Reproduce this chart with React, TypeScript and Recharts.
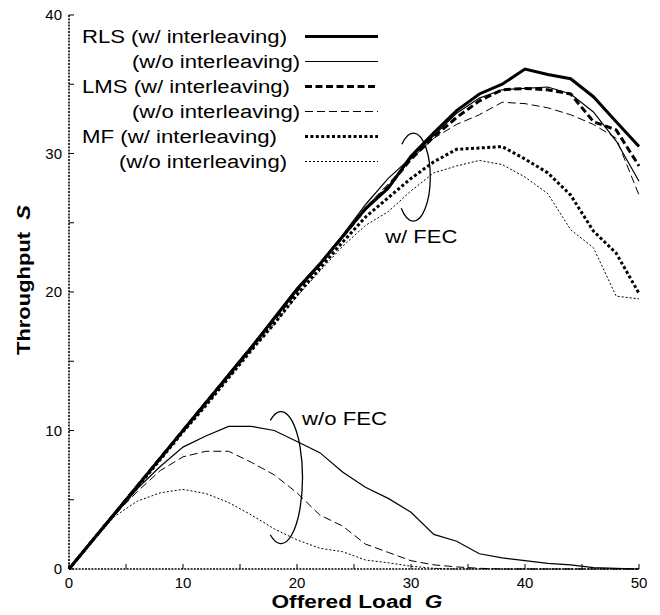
import { Legend, Line, LineChart, ReferenceDot, XAxis, YAxis } from "recharts";

const FONT = '"Liberation Sans", Arial, Helvetica, sans-serif';

// offered load G, sampled every 2
const loads = [0, 2, 4, 6, 8, 10, 12, 14, 16, 18, 20, 22, 24, 26, 28, 30, 32, 34, 36, 38, 40, 42, 44, 46, 48, 50];

// w/ FEC
const rlsInt = [0, 2.0, 4.0, 6.0, 8.0, 10.0, 12.0, 14.0, 16.0, 18.1, 20.2, 22.0, 24.0, 26.0, 27.5, 29.8, 31.5, 33.1, 34.3, 35.0, 36.1, 35.7, 35.4, 34.1, 32.3, 30.5];
const rlsNoInt = [0, 2.0, 4.0, 6.0, 8.0, 10.0, 12.0, 14.1, 16.1, 18.2, 20.3, 22.1, 24.1, 26.3, 28.2, 29.7, 31.3, 32.9, 34.0, 34.6, 34.7, 34.8, 34.3, 33.0, 30.9, 28.0];
const lmsInt = [0, 2.0, 4.0, 6.0, 8.0, 10.0, 12.0, 14.0, 16.0, 18.0, 20.1, 22.0, 24.0, 26.0, 27.6, 29.6, 31.2, 32.6, 33.8, 34.6, 34.7, 34.6, 34.3, 32.3, 31.7, 29.1];
const lmsNoInt = [0, 2.0, 4.0, 6.0, 8.0, 10.0, 12.0, 14.0, 16.0, 18.0, 20.1, 22.0, 23.9, 26.1, 27.8, 29.6, 31.1, 32.1, 32.8, 33.7, 33.6, 33.3, 32.8, 32.1, 31.1, 27.0];
const mfInt = [0, 2.0, 4.0, 5.9, 7.9, 9.9, 11.8, 13.8, 15.8, 17.7, 19.8, 21.7, 23.6, 25.4, 26.8, 28.2, 29.4, 30.3, 30.4, 30.5, 29.6, 28.6, 27.0, 24.4, 22.8, 19.9];
const mfNoInt = [0, 2.0, 4.0, 5.9, 7.9, 9.9, 11.8, 13.8, 15.8, 17.7, 19.7, 21.5, 23.3, 24.8, 25.8, 27.3, 28.6, 29.1, 29.5, 29.2, 28.3, 27.1, 24.5, 23.2, 19.7, 19.5];

// w/o FEC
const rlsNoFec = [0, 2.0, 3.9, 5.8, 7.4, 8.8, 9.6, 10.3, 10.3, 10.0, 9.2, 8.4, 7.0, 5.9, 5.1, 4.1, 2.5, 2.0, 1.1, 0.8, 0.6, 0.4, 0.3, 0.1, 0.05, 0];
const lmsNoFec = [0, 2.0, 3.9, 5.6, 7.1, 8.1, 8.5, 8.5, 7.7, 6.8, 5.5, 3.9, 3.1, 1.8, 1.2, 0.6, 0.3, 0.15, 0.05, 0, 0, 0, 0, 0, 0, 0];
const mfNoFec = [0, 1.9, 3.8, 4.9, 5.5, 5.75, 5.45, 4.8, 3.9, 2.9, 2.1, 1.5, 1.25, 0.65, 0.45, 0.2, 0.05, 0, 0, 0, 0, 0, 0, 0, 0, 0];

const X_TICKS = [0, 5, 10, 15, 20, 25, 30, 35, 40, 45, 50];
const Y_TICKS = [0, 5, 10, 15, 20, 25, 30, 35, 40];

const data = loads.map((g, i) => ({
  g,
  rlsInt: rlsInt[i],
  rlsNoInt: rlsNoInt[i],
  lmsInt: lmsInt[i],
  lmsNoInt: lmsNoInt[i],
  mfInt: mfInt[i],
  mfNoInt: mfNoInt[i],
  rlsNoFec: rlsNoFec[i],
  lmsNoFec: lmsNoFec[i],
  mfNoFec: mfNoFec[i],
}));

const STYLE = {
  solidThick: { width: 3, dash: undefined as string | undefined },
  solidThin: { width: 1.2, dash: undefined as string | undefined },
  dashThick: { width: 3, dash: "7 3.5" },
  dashThin: { width: 1, dash: "8 4" },
  dotThick: { width: 3, dash: "3 2.4" },
  dotThin: { width: 1, dash: "2 2" },
};

const SERIES = [
  { key: "rlsInt", style: STYLE.solidThick },
  { key: "rlsNoInt", style: STYLE.solidThin },
  { key: "lmsInt", style: STYLE.dashThick },
  { key: "lmsNoInt", style: STYLE.dashThin },
  { key: "mfInt", style: STYLE.dotThick },
  { key: "mfNoInt", style: STYLE.dotThin },
  { key: "rlsNoFec", style: STYLE.solidThin },
  { key: "lmsNoFec", style: STYLE.dashThin },
  { key: "mfNoFec", style: STYLE.dotThin },
];

// legend rows: text x, text length (glyphs are a bit wide in the original)
const LEGEND_ROWS = [
  { label: "RLS (w/ interleaving)", style: STYLE.solidThick, x: 82, len: 205 },
  { label: "(w/o interleaving)", style: STYLE.solidThin, x: 132, len: 168 },
  { label: "LMS (w/ interleaving)", style: STYLE.dashThick, x: 82, len: 208 },
  { label: "(w/o interleaving)", style: STYLE.dashThin, x: 132, len: 168 },
  { label: "MF (w/ interleaving)", style: STYLE.dotThick, x: 82, len: 195 },
  { label: "(w/o interleaving)", style: STYLE.dotThin, x: 119, len: 168 },
];

function LegendBox() {
  return (
    <svg width={400} height={190} style={{ display: "block" }}>
      {LEGEND_ROWS.map((row, i) => (
        <g key={i}>
          <text
            x={row.x}
            y={43 + 25 * i}
            fontFamily={FONT}
            fontSize={18}
            fill="#000"
            textLength={row.len}
            lengthAdjust="spacingAndGlyphs"
          >
            {row.label}
          </text>
          <line
            x1={305}
            x2={378}
            y1={36.5 + 25 * i}
            y2={36.5 + 25 * i}
            stroke="#000"
            strokeWidth={row.style.width}
            strokeDasharray={row.style.dash}
          />
        </g>
      ))}
    </svg>
  );
}

function arcPath(cx: number, cy: number, rx: number, ry: number, t0: number, t1: number) {
  const r = Math.PI / 180;
  const sx = cx + rx * Math.cos(t0 * r);
  const sy = cy + ry * Math.sin(t0 * r);
  const ex = cx + rx * Math.cos(t1 * r);
  const ey = cy + ry * Math.sin(t1 * r);
  return `M ${sx} ${sy} A ${rx} ${ry} 0 1 1 ${ex} ${ey}`;
}

function FecNote(props: any) {
  const { cx, cy, rx, ry, t0, t1, text, dx, dy, len } = props;
  if (cx == null || cy == null) return null;
  return (
    <g>
      <path d={arcPath(cx, cy, rx, ry, t0, t1)} fill="none" stroke="#000" strokeWidth={1.3} />
      <text
        x={cx + dx}
        y={cy + dy}
        fontFamily={FONT}
        fontSize={18}
        fill="#000"
        textLength={len}
        lengthAdjust="spacingAndGlyphs"
      >
        {text}
      </text>
    </g>
  );
}

function XTitle(props: any) {
  const vb = props.viewBox || { x: 69, y: 569, width: 570, height: 30 };
  return (
    <text
      x={vb.x + vb.width / 2 + 3}
      y={vb.y + 39}
      textAnchor="middle"
      fontFamily={FONT}
      fontSize={18}
      fontWeight="bold"
      fill="#000"
      textLength={171}
      lengthAdjust="spacingAndGlyphs"
    >
      Offered Load{"\u00a0\u00a0"}
      <tspan fontStyle="italic">G</tspan>
    </text>
  );
}

function YTitle(props: any) {
  const vb = props.viewBox || { x: 29, y: 15, width: 40, height: 554 };
  const x = vb.x - 5;
  const y = vb.y + vb.height / 2 - 12;
  return (
    <text
      x={x}
      y={y}
      transform={`rotate(-90, ${x}, ${y})`}
      textAnchor="middle"
      dominantBaseline="central"
      fontFamily={FONT}
      fontSize={18}
      fontWeight="bold"
      fill="#000"
      textLength={150}
      lengthAdjust="spacingAndGlyphs"
    >
      Throughput{"\u00a0\u00a0"}
      <tspan fontStyle="italic">S</tspan>
    </text>
  );
}

const tickStyle = { fill: "#000", fontSize: 15, fontFamily: FONT };

export default function App() {
  return (
    <div style={{ width: 660, height: 615, margin: "-8px 0 0 -8px", background: "#fff" }}>
      <LineChart
        width={660}
        height={615}
        data={data}
        margin={{ top: 15, right: 21, left: 29, bottom: 16 }}
      >
        <XAxis
          dataKey="g"
          type="number"
          domain={[0, 50]}
          ticks={X_TICKS}
          interval={0}
          tickFormatter={(v) => (Number(v) % 10 === 0 ? String(v) : "")}
          tickSize={-5}
          tickMargin={13}
          height={30}
          tick={tickStyle}
          tickLine={{ stroke: "#000", strokeWidth: 1 }}
          axisLine={{ stroke: "#000", strokeWidth: 1.6, strokeDasharray: "2 1.2" }}
          label={<XTitle />}
        />
        <XAxis
          xAxisId="top"
          orientation="top"
          dataKey="g"
          type="number"
          domain={[0, 50]}
          ticks={X_TICKS}
          interval={0}
          tickFormatter={() => ""}
          tickSize={-5}
          height={0}
          tickLine={{ stroke: "#000", strokeWidth: 1 }}
          axisLine={{ stroke: "#000", strokeWidth: 1.3 }}
        />
        <YAxis
          type="number"
          domain={[0, 40]}
          ticks={Y_TICKS}
          interval={0}
          tickFormatter={(v) => (Number(v) % 10 === 0 ? String(v) : "")}
          tickSize={-5}
          tickMargin={12}
          width={40}
          tick={tickStyle}
          tickLine={{ stroke: "#000", strokeWidth: 1 }}
          axisLine={{ stroke: "#000", strokeWidth: 1.6, strokeDasharray: "2 1.2" }}
          label={<YTitle />}
        />
        <YAxis
          yAxisId="right"
          orientation="right"
          type="number"
          domain={[0, 40]}
          ticks={Y_TICKS}
          interval={0}
          tickFormatter={() => ""}
          tickSize={-5}
          width={0}
          tickLine={{ stroke: "#000", strokeWidth: 1 }}
          axisLine={{ stroke: "#000", strokeWidth: 1.3 }}
        />
        {SERIES.map((s) => (
          <Line
            key={s.key}
            type="linear"
            dataKey={s.key}
            stroke="#000"
            strokeWidth={s.style.width}
            strokeDasharray={s.style.dash}
            dot={false}
            activeDot={false}
            isAnimationActive={false}
          />
        ))}
        <ReferenceDot
          x={30.2}
          y={28.3}
          r={0}
          ifOverflow="visible"
          shape={(p: any) => (
            <FecNote {...p} rx={17} ry={44} t0={228} t1={135} text="w/ FEC" dx={-28} dy={65.5} len={72} />
          )}
        />
        <ReferenceDot
          x={18.6}
          y={6.6}
          r={0}
          ifOverflow="visible"
          shape={(p: any) => (
            <FecNote {...p} rx={21.5} ry={66} t0={240} t1={120} text="w/o FEC" dx={21} dy={-53} len={85} />
          )}
        />
        <Legend
          layout="vertical"
          align="center"
          verticalAlign="middle"
          wrapperStyle={{ left: 0, top: 0, width: 400, height: 190 }}
          content={() => <LegendBox />}
        />
      </LineChart>
    </div>
  );
}
